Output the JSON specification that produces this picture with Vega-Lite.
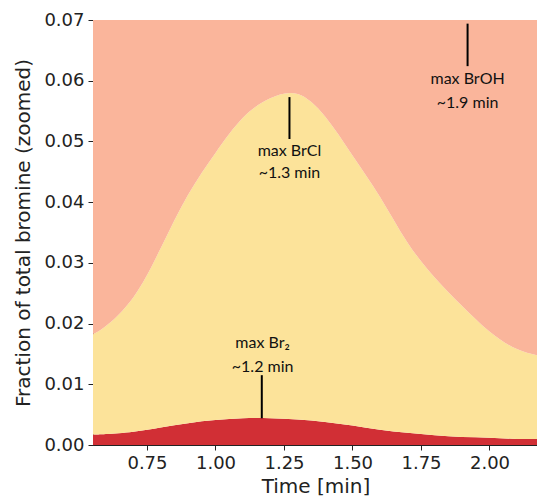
{
  "$schema": "https://vega.github.io/schema/vega-lite/v6.json",
  "width": 445,
  "height": 425,
  "autosize": {"type": "none"},
  "padding": {"left": 93, "top": 20, "right": 0, "bottom": 52},
  "background": "white",
  "config": {
    "view": {"stroke": "#222", "strokeWidth": 1},
    "axis": {
      "labelFont": "DejaVu Sans", "labelFontSize": 18, "labelColor": "#222",
      "titleFont": "DejaVu Sans", "titleFontSize": 20, "titleFontWeight": "normal", "titleColor": "#222",
      "domainColor": "#222", "tickColor": "#222", "tickSize": 5, "grid": false
    }
  },
  "datasets": {
    "curves": [
      {"t": 0.55, "Br2": 0.0017, "BrCl": 0.0165, "BrOH": 0.30},
      {"t": 0.60, "Br2": 0.0018, "BrCl": 0.0178, "BrOH": 0.32},
      {"t": 0.70, "Br2": 0.0022, "BrCl": 0.0221, "BrOH": 0.36},
      {"t": 0.80, "Br2": 0.0029, "BrCl": 0.0295, "BrOH": 0.40},
      {"t": 0.90, "Br2": 0.0036, "BrCl": 0.0376, "BrOH": 0.44},
      {"t": 1.00, "Br2": 0.0041, "BrCl": 0.0440, "BrOH": 0.48},
      {"t": 1.10, "Br2": 0.0044, "BrCl": 0.0495, "BrOH": 0.52},
      {"t": 1.20, "Br2": 0.0044, "BrCl": 0.0527, "BrOH": 0.55},
      {"t": 1.30, "Br2": 0.0042, "BrCl": 0.0536, "BrOH": 0.58},
      {"t": 1.40, "Br2": 0.0038, "BrCl": 0.0503, "BrOH": 0.60},
      {"t": 1.50, "Br2": 0.0032, "BrCl": 0.0445, "BrOH": 0.62},
      {"t": 1.60, "Br2": 0.0025, "BrCl": 0.0384, "BrOH": 0.63},
      {"t": 1.70, "Br2": 0.0020, "BrCl": 0.0314, "BrOH": 0.64},
      {"t": 1.80, "Br2": 0.0016, "BrCl": 0.0260, "BrOH": 0.645},
      {"t": 1.90, "Br2": 0.0013, "BrCl": 0.0216, "BrOH": 0.65},
      {"t": 2.00, "Br2": 0.0012, "BrCl": 0.0175, "BrOH": 0.645},
      {"t": 2.10, "Br2": 0.0010, "BrCl": 0.0148, "BrOH": 0.64},
      {"t": 2.20, "Br2": 0.0010, "BrCl": 0.0135, "BrOH": 0.63}
    ],
    "marks": [
      {"t": 1.92, "y1": 0.0694, "y2": 0.0624},
      {"t": 1.27, "y1": 0.0573, "y2": 0.0504},
      {"t": 1.169, "y1": 0.0115, "y2": 0.0044}
    ],
    "labels": [
      {"t": 1.92, "v": 0.0603, "label": "max BrOH"},
      {"t": 1.92, "v": 0.0563, "label": "~1.9 min"},
      {"t": 1.27, "v": 0.0485, "label": "max BrCl"},
      {"t": 1.27, "v": 0.0448, "label": "~1.3 min"},
      {"t": 1.172, "v": 0.01675, "label": "max Br₂"},
      {"t": 1.172, "v": 0.0129, "label": "~1.2 min"}
    ]
  },
  "layer": [
    {
      "data": {"name": "curves"},
      "transform": [
        {"fold": ["Br2", "BrCl", "BrOH"], "as": ["species", "fraction"]},
        {"calculate": "indexof(['Br2','BrCl','BrOH'], datum.species)", "as": "rank"}
      ],
      "mark": {"type": "area", "interpolate": "natural", "clip": true},
      "encoding": {
        "x": {"field": "t", "type": "quantitative", "title": "Time [min]",
              "scale": {"domain": [0.553, 2.177], "nice": false, "zero": false},
              "axis": {"values": [0.75, 1.0, 1.25, 1.5, 1.75, 2.0], "format": ".2f", "labelPadding": 4, "titlePadding": 4}},
        "y": {"field": "fraction", "type": "quantitative", "stack": "zero",
              "title": "Fraction of total bromine (zoomed)",
              "scale": {"domain": [0, 0.07], "nice": false},
              "axis": {"values": [0, 0.01, 0.02, 0.03, 0.04, 0.05, 0.06, 0.07], "format": ".2f", "labelPadding": 4, "titlePadding": 10}},
        "color": {"field": "species", "type": "nominal",
                  "scale": {"domain": ["Br2", "BrCl", "BrOH"], "range": ["#d12f35", "#fce39a", "#fab59b"]},
                  "legend": null},
        "order": {"field": "rank", "type": "quantitative", "sort": "ascending"}
      }
    },
    {
      "data": {"name": "marks"},
      "mark": {"type": "rule", "color": "black", "strokeWidth": 2},
      "encoding": {
        "x": {"field": "t", "type": "quantitative"},
        "y": {"field": "y1", "type": "quantitative"},
        "y2": {"field": "y2"}
      }
    },
    {
      "data": {"name": "labels"},
      "mark": {"type": "text", "font": "Lato", "fontSize": 16, "color": "#111", "align": "center", "baseline": "middle"},
      "encoding": {
        "x": {"field": "t", "type": "quantitative"},
        "y": {"field": "v", "type": "quantitative"},
        "text": {"field": "label"}
      }
    }
  ]
}
